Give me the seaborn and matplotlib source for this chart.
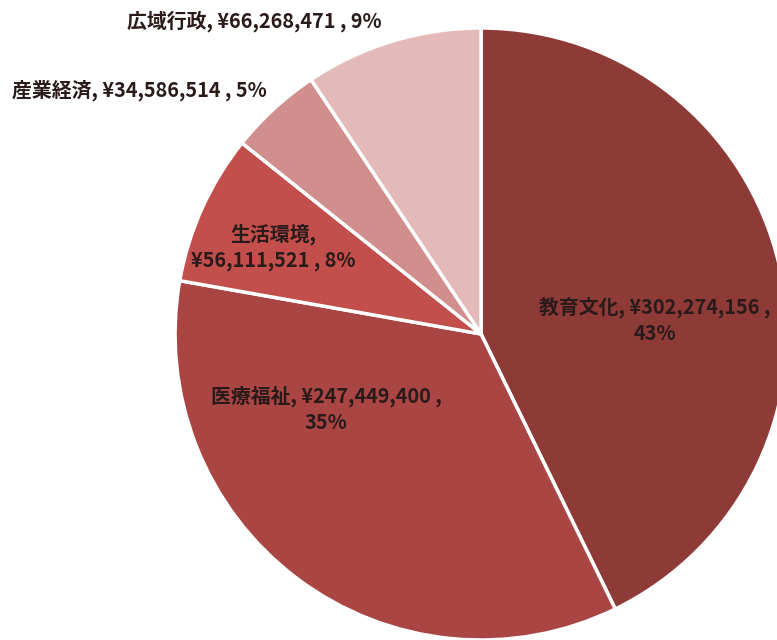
import matplotlib
matplotlib.use("Agg")
import matplotlib.pyplot as plt
import seaborn as sns

# Budget allocation by field (yen)
categories = ["教育文化", "医療福祉", "生活環境", "産業経済", "広域行政"]
amounts = [302274156, 247449400, 56111521, 34586514, 66268471]
colors = ["#8E3A37", "#A94643", "#C24F4C", "#D08F8D", "#E3BAB9"]

# Label anchor (data units of the unit-radius pie) and where the line break goes
label_layout = {
    "教育文化": (0.569, 0.046, "value"),
    "医療福祉": (-0.507, -0.245, "value"),
    "生活環境": (-0.680, 0.284, "name"),
    "産業経済": (-1.118, 0.797, None),
    "広域行政": (-0.742, 1.022, None),
}

sns.set_theme(style="white")
plt.rcParams["font.family"] = ["Noto Sans CJK JP", "DejaVu Sans"]

fig = plt.figure(figsize=(7.77, 6.40), dpi=100)
ax = fig.add_axes([0, 0, 1, 1])

ax.pie(
    amounts,
    colors=colors,
    startangle=90,
    counterclock=False,
    radius=1.0,
    center=(0, 0),
    wedgeprops=dict(edgecolor="white", linewidth=2.5),
)

total = sum(amounts)
for cat, amt in zip(categories, amounts):
    pct = f"{round(amt / total * 100)}%"
    value = f"¥{amt:,}"
    x, y, brk = label_layout[cat]
    if brk == "value":
        text = f"{cat}, {value} ,\n{pct}"
    elif brk == "name":
        text = f"{cat},\n{value} , {pct}"
    else:
        text = f"{cat}, {value} , {pct}"
    ax.text(x, y, text, ha="center", va="center", fontsize=14.3,
            fontweight="bold", color="#2a1a1a", linespacing=1.3)

ax.set_xlim(-1.572, 0.967)
ax.set_ylim(-1.0, 1.0915)
ax.set_aspect("equal")
ax.axis("off")

fig.savefig("out.png", dpi=100, facecolor="white")
